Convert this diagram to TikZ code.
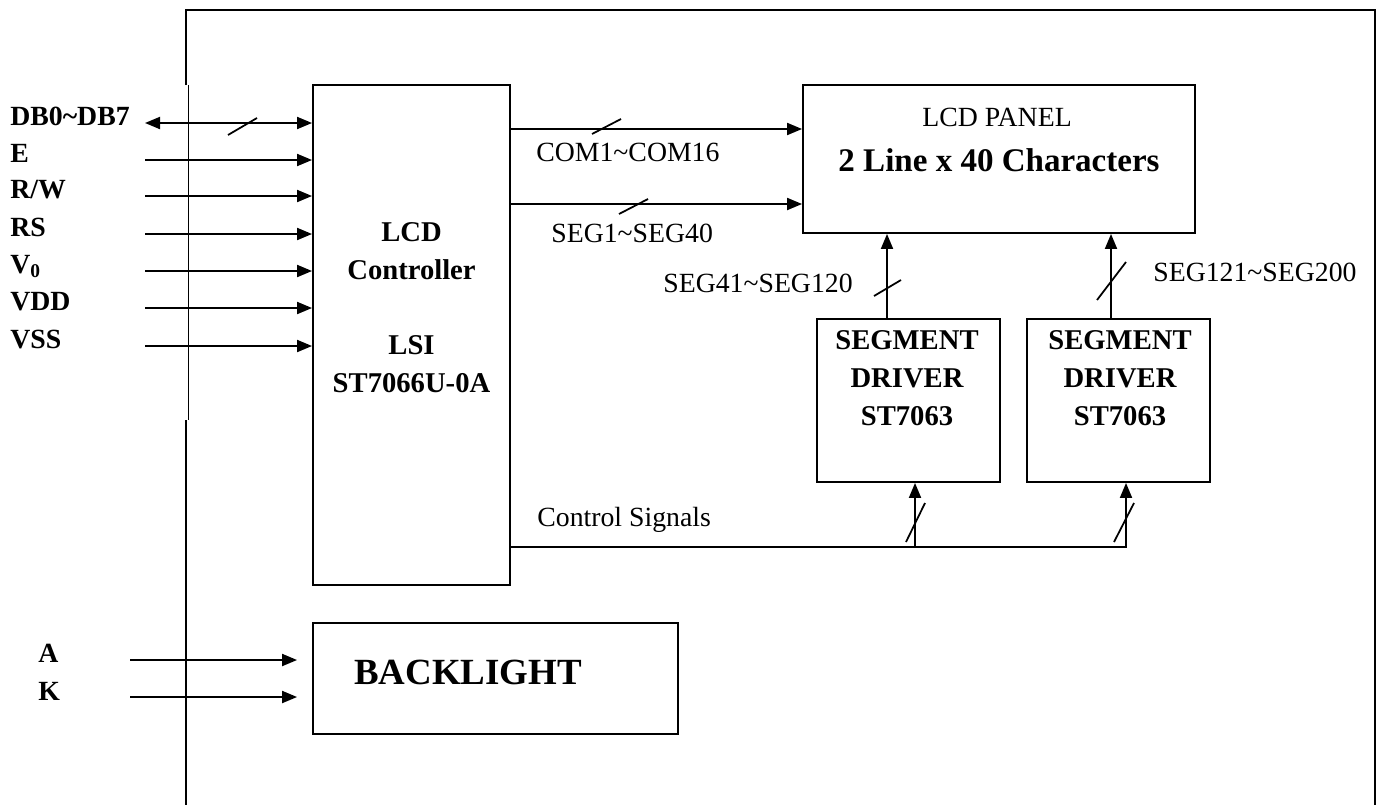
\documentclass[tikz,border=0pt]{standalone}
\usepackage{fontspec}
\setmainfont{Liberation Serif}
\usetikzlibrary{arrows.meta,positioning}
\tikzset{
  >={Triangle[length=0.3cm,width=0.24cm]},
  blk/.style={draw, line width=1.1pt, inner sep=0pt},
  sig/.style={line width=1.1pt},
  bus/.style={line width=1pt},
  pin/.style={font=\fontsize{15.8}{19}\selectfont\bfseries, anchor=base west, inner sep=0pt},
  lbl/.style={font=\fontsize{15.8}{19}\selectfont, anchor=west, inner sep=0pt},
  chip/.style={font=\fontsize{16.3}{21.6}\selectfont\bfseries, align=center, inner sep=0pt},
}

\begin{document}
\begin{tikzpicture}[x=0.02cm, y=-0.02cm]
    \useasboundingbox (0,0) rectangle (1381,805);

    % frame
    \draw[line width=1.1pt] (186,85) -- (186,10) -- (1375,10) -- (1375,805);
    \draw[line width=0.4pt] (188,85) -- (188,420);
    \draw[line width=1.1pt] (186,420) -- (186,805);

    % blocks
    \node[blk, minimum width=3.94cm, minimum height=10cm] (ctrl) at (411.5,335) {};
    \node[blk, minimum width=7.84cm, minimum height=2.96cm] (lcd) at (999,159) {};
    \node[blk, minimum width=3.66cm, minimum height=3.26cm] (segA) at (908.5,400.5) {};
    \node[blk, minimum width=3.66cm, minimum height=3.26cm] (segB) at (1118.5,400.5) {};
    \node[blk, minimum width=7.3cm, minimum height=2.22cm] (bl) at (495.5,678.5) {};

    \node[chip] (ctrltxt) at (411.5,308) {LCD\\Controller\\[0.74cm]LSI\\ST7066U-0A};
    \node[chip] (segAtxt) at (907,378) {SEGMENT\\DRIVER\\ST7063};
    \node[chip] (segBtxt) at (1120,378) {SEGMENT\\DRIVER\\ST7063};
    \node[lbl, anchor=center] (lcdtxt) at (997,117) {LCD PANEL};
    \node[font=\fontsize{18.8}{22}\selectfont\bfseries, inner sep=0pt] (lcdsize) at (999,160) {2 Line x 40 Characters};
    \node[font=\fontsize{21}{25}\selectfont\bfseries, anchor=west, inner sep=0pt] (bltxt) at (354,672) {BACKLIGHT};

    % inputs
    \node[pin] (p0) at (10,125.5) {DB0\textasciitilde DB7};
    \coordinate (in0) at (145,123);
    \draw[sig,<->] (in0) -- (in0 -| ctrl.west);
    \draw[bus] (228,135) -- (257,118);
    \foreach \i/\y/\t in {1/160/E, 2/196/{R/W}, 3/234/RS, 4/271/{V\textsubscript{0}}, 5/308/VDD, 6/346/VSS}{
        \node[pin] (p\i) at (10,\y+2.5) {\t};
        \coordinate (in\i) at (145,\y);
        \draw[sig,->] (in\i) -- (in\i -| ctrl.west);
    }

    \node[pin] (pA) at (38,662) {A};
    \node[pin] (pK) at (38,700) {K};
    \coordinate (inA) at (130,660);
    \coordinate (inK) at (130,697);
    \draw[sig,->,shorten >=0.3cm] (inA) -- (inA -| bl.west);
    \draw[sig,->,shorten >=0.3cm] (inK) -- (inK -| bl.west);

    % controller to panel
    \coordinate (com) at (510,129);
    \coordinate (seg) at (510,204);
    \draw[sig,->] (ctrl.east |- com) -- (lcd.west |- com);
    \draw[sig,->] (ctrl.east |- seg) -- (lcd.west |- seg);
    \draw[bus] (592,134) -- (621,119);
    \draw[bus] (619,214) -- (648,199);
    \node[lbl] (comtxt) at (536,152) {COM1\textasciitilde COM16};
    \node[lbl] (segtxt) at (551,233) {SEG1\textasciitilde SEG40};

    % drivers to panel
    \coordinate (upA) at (887,0);
    \coordinate (upB) at (1111,0);
    \draw[sig,->] (segA.north -| upA) -- (lcd.south -| upA);
    \draw[sig,->] (segB.north -| upB) -- (lcd.south -| upB);
    \draw[bus] (874,296) -- (901,280);
    \draw[bus] (1097,300) -- (1126,262);
    \node[lbl] (segAlbl) at (663,283) {SEG41\textasciitilde SEG120};
    \node[lbl] (segBlbl) at (1153,272) {SEG121\textasciitilde SEG200};

    % control signals
    \coordinate (ctlA) at (915,547);
    \coordinate (ctlB) at (1126,547);
    \draw[sig,->] (ctrl.east |- ctlB) -| (segB.south -| ctlB);
    \draw[sig,->] (ctlA) -- (segA.south -| ctlA);
    \draw[bus] (906,542) -- (925,503);
    \draw[bus] (1114,542) -- (1134,503);
    \node[lbl] (ctltxt) at (537,520) {Control Signals};
\end{tikzpicture}
\end{document}
